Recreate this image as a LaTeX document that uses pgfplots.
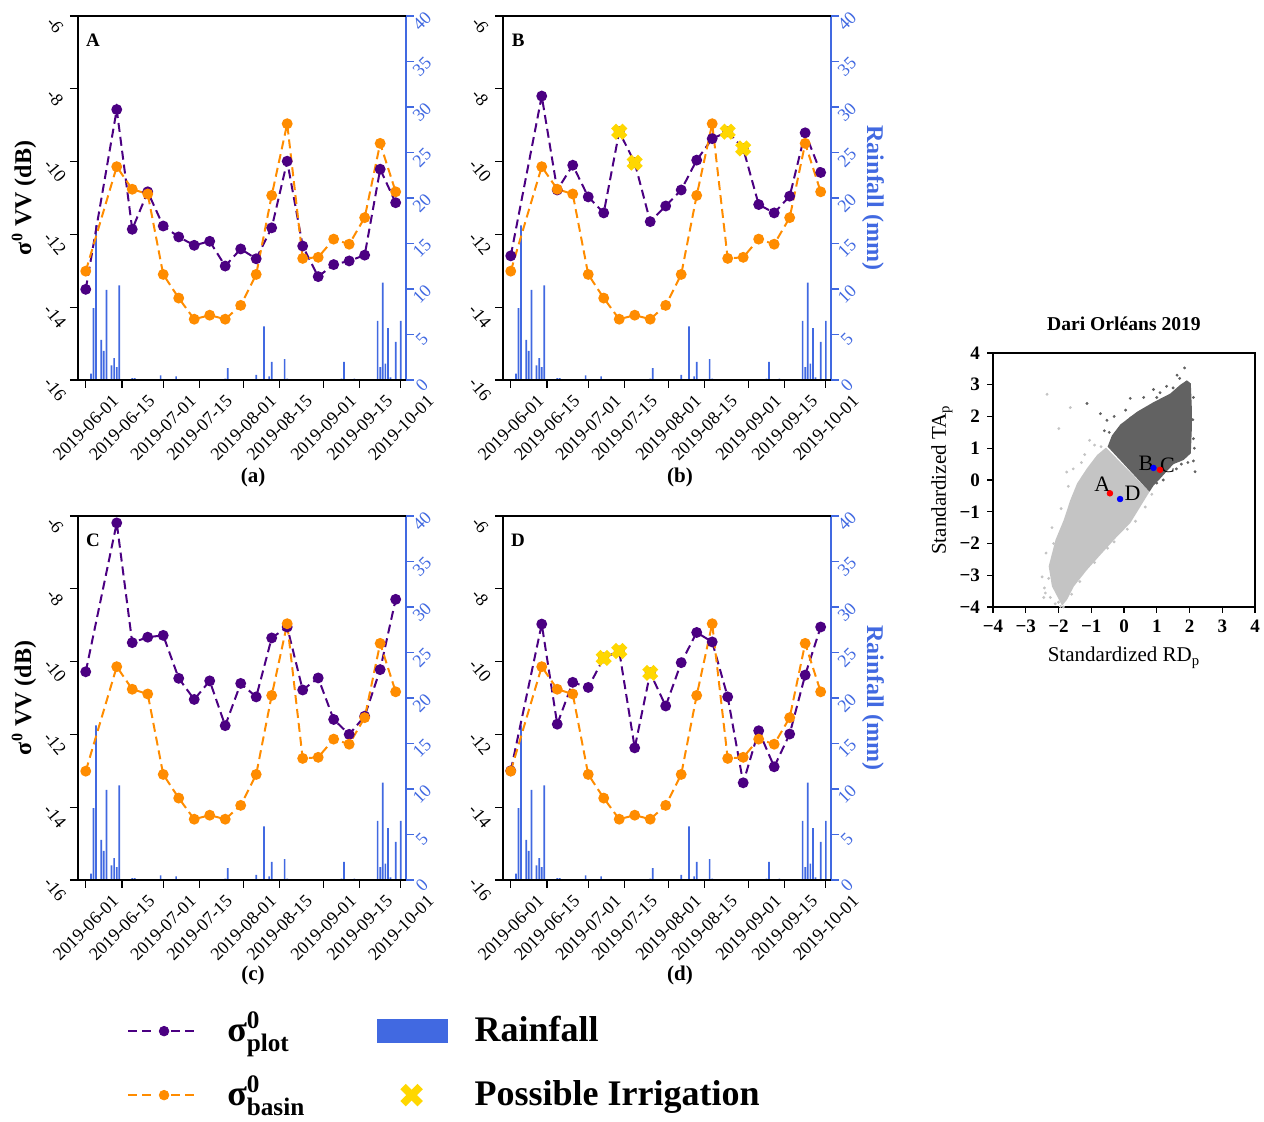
\documentclass[border=0pt]{standalone}
\usepackage{amsmath}
\usepackage{fontspec}
\setmainfont{Liberation Serif}
\usepackage{pgfplots}
\pgfplotsset{compat=1.18}
\usepackage{pgfplotstable}

\definecolor{cplot}{RGB}{75,0,130}
\definecolor{cbasin}{RGB}{255,140,0}
\definecolor{crain}{RGB}{65,105,225}
\definecolor{cirr}{RGB}{255,215,0}
\definecolor{clight}{RGB}{196,196,196}
\definecolor{cdark}{RGB}{98,98,98}

\newcommand{\tickfont}{\fontsize{9}{10}\selectfont}

\pgfplotstableread{
day mm
2 0.7
3 7.9
4 17.0
6 4.4
7 3.2
8 9.9
10 1.6
11 2.4
12 1.4
13 10.4
18 0.2
19 0.2
29 0.5
35 0.4
54 0.15
55 1.3
66 0.55
69 5.9
71 0.4
72 2.0
77 2.3
78 0.15
99 0.15
100 2.0
104 0.15
113 6.5
114 1.4
115 10.7
116 1.8
117 5.7
118 0.3
120 4.2
122 6.5
}\raintable

\pgfplotstableread{
day s
0 -13.01
12 -10.14
18 -10.76
24 -10.89
30 -13.10
36 -13.75
42 -14.33
48 -14.22
54 -14.33
60 -13.95
66 -13.10
72 -10.93
78 -8.96
84 -12.66
90 -12.63
96 -12.13
102 -12.27
108 -11.54
114 -9.50
120 -10.83
}\basintable

\pgfplotstableread{
day s
0 -13.51
12 -8.57
18 -11.86
24 -10.83
30 -11.77
36 -12.07
42 -12.30
48 -12.19
54 -12.87
60 -12.40
66 -12.67
72 -11.82
78 -9.99
84 -12.32
90 -13.16
96 -12.83
102 -12.73
108 -12.57
114 -10.21
120 -11.13
}\plotA

\pgfplotstableread{
day s
0 -12.59
12 -8.20
18 -10.78
24 -10.10
30 -10.97
36 -11.41
42 -9.18
48 -10.03
54 -11.65
60 -11.22
66 -10.78
72 -9.96
78 -9.37
84 -9.18
90 -9.64
96 -11.18
102 -11.41
108 -10.95
114 -9.21
120 -10.30
}\plotB

\pgfplotstableread{
day s
0 -10.28
12 -6.19
18 -9.48
24 -9.33
30 -9.28
36 -10.46
42 -11.04
48 -10.53
54 -11.76
60 -10.60
66 -10.97
72 -9.35
78 -9.05
84 -10.78
90 -10.45
96 -11.59
102 -12.00
108 -11.50
114 -10.22
120 -8.29
}\plotC

\pgfplotstableread{
day s
0 -13.00
12 -8.97
18 -11.72
24 -10.57
30 -10.71
36 -9.90
42 -9.71
48 -12.37
54 -10.31
60 -11.22
66 -10.03
72 -9.20
78 -9.46
84 -10.97
90 -13.33
96 -11.90
102 -12.89
108 -11.99
114 -10.37
120 -9.05
}\plotD

\pgfplotstableread{
day s
42 -9.18
48 -10.03
84 -9.18
90 -9.64
}\irrB

\pgfplotstableread{
day s
36 -9.90
42 -9.71
54 -10.31
}\irrD

\pgfplotsset{
  panelbase/.style={scale only axis, width=164pt, height=182pt, xmin=-3, xmax=124, anchor=south west},
  rainax/.style={panelbase, ymin=0, ymax=40,
    axis x line=none, axis y line*=right,
    y axis line style={crain, line width=0.8pt},
    ytick={0,5,...,40}, yticklabels={0,5,10,15,20,25,30,35,40},
    tick align=outside, major tick length=4pt,
    ytick style={crain, line width=0.6pt},
    yticklabel style={font=\tickfont, text=crain, anchor=center, xshift=4pt, yshift=-2.5pt, rotate=45}},
  sigax/.style={panelbase, ymin=-16, ymax=-6,
    axis x line*=box, axis y line*=left,
    tick align=outside, major tick length=4pt,
    xtick={0,14,30,44,61,75,92,106,122},
    xticklabels={2019-06-01,2019-06-15,2019-07-01,2019-07-15,2019-08-01,2019-08-15,2019-09-01,2019-09-15,2019-10-01},
    xtick pos=left,
    ytick={-16,-14,-12,-10,-8,-6}, yticklabels={-16,-14,-12,-10,-8,-6},
    ytick pos=left,
    xticklabel style={font=\tickfont, anchor=center, yshift=-20pt, rotate=45},
    yticklabel style={font=\tickfont, anchor=center, xshift=-7.5pt, yshift=-4.5pt, rotate=-50},
    axis line style={line width=0.8pt},
    tick style={black, line width=0.6pt}},
  sigylabel/.style={ylabel={σ\textsuperscript{0} VV (dB)},
    ylabel style={font=\bfseries\fontsize{12}{14}\selectfont, at={(axis description cs:-0.165,0.5)}, anchor=center}},
  rainylabel/.style={ylabel={Rainfall (mm)},
    ylabel style={font=\bfseries\fontsize{12}{14}\selectfont, text=crain, at={(axis description cs:1.128,0.5)}, anchor=center, rotate=180}},
  plotline/.style={cplot, line width=1pt, dash pattern=on 4.5pt off 2.5pt, mark=*, mark size=2.2pt, mark options={solid, fill=cplot, draw=cplot}},
  basinline/.style={cbasin, line width=1pt, dash pattern=on 4.5pt off 2.5pt, mark=*, mark size=2.2pt, mark options={solid, fill=cbasin, draw=cbasin}},
  irr/.style={only marks, mark=x, mark size=4pt, cirr, mark options={line width=3.4pt, solid, draw=cirr}},
  rainbars/.style={ybar, bar width=0.65, fill=crain, draw=none},
}
\tikzset{panelletter/.style={font=\bfseries\fontsize{9.5}{11}\selectfont, anchor=center},
  subcap/.style={font=\bfseries\fontsize{10.5}{12}\selectfont, anchor=center}}

\begin{document}
\begin{tikzpicture}
\useasboundingbox (0pt,0pt) rectangle (632pt,561pt);

% ---------- Panel A
\begin{axis}[rainax, at={(39pt,371pt)}]
\addplot[rainbars] table[x=day,y=mm]{\raintable};
\end{axis}
\begin{axis}[sigax, sigylabel, at={(39pt,371pt)}]
\addplot[plotline] table[x=day,y=s]{\plotA};
\addplot[basinline] table[x=day,y=s]{\basintable};
\node[panelletter] at (rel axis cs:0.046,0.934) {A};
\end{axis}

% ---------- Panel B
\begin{axis}[rainax, rainylabel, at={(251.5pt,371pt)}]
\addplot[rainbars] table[x=day,y=mm]{\raintable};
\end{axis}
\begin{axis}[sigax, at={(251.5pt,371pt)}]
\addplot[plotline] table[x=day,y=s]{\plotB};
\addplot[basinline] table[x=day,y=s]{\basintable};
\addplot[irr] table[x=day,y=s]{\irrB};
\node[panelletter] at (rel axis cs:0.046,0.934) {B};
\end{axis}

% ---------- Panel C
\begin{axis}[rainax, at={(39pt,121pt)}]
\addplot[rainbars] table[x=day,y=mm]{\raintable};
\end{axis}
\begin{axis}[sigax, sigylabel, at={(39pt,121pt)}]
\addplot[plotline] table[x=day,y=s]{\plotC};
\addplot[basinline] table[x=day,y=s]{\basintable};
\node[panelletter] at (rel axis cs:0.046,0.934) {C};
\end{axis}

% ---------- Panel D
\begin{axis}[rainax, rainylabel, at={(251.5pt,121pt)}]
\addplot[rainbars] table[x=day,y=mm]{\raintable};
\end{axis}
\begin{axis}[sigax, at={(251.5pt,121pt)}]
\addplot[plotline] table[x=day,y=s]{\plotD};
\addplot[basinline] table[x=day,y=s]{\basintable};
\addplot[irr] table[x=day,y=s]{\irrD};
\node[panelletter] at (rel axis cs:0.046,0.934) {D};
\end{axis}

\node[subcap] at (126.5pt,322.5pt) {(a)};
\node[subcap] at (340pt,322.5pt) {(b)};
\node[subcap] at (126.5pt,73.5pt) {(c)};
\node[subcap] at (340pt,73.5pt) {(d)};

% ---------- Scatter
\begin{axis}[scale only axis, width=131pt, height=127pt, at={(496.5pt,257.5pt)}, anchor=south west,
  xmin=-4, xmax=4, ymin=-4, ymax=4,
  xtick={-4,-3,-2,-1,0,1,2,3,4}, ytick={-4,-3,-2,-1,0,1,2,3,4},
  xticklabels={−4,−3,−2,−1,0,1,2,3,4}, yticklabels={−4,−3,−2,−1,0,1,2,3,4},
  tick align=outside, xtick pos=left, ytick pos=left, major tick length=3pt,
  ticklabel style={font=\bfseries\fontsize{9.5}{11}\selectfont},
  tick style={black, line width=0.6pt},
  axis line style={line width=0.7pt},
  title={Dari Orléans 2019},
  title style={font=\bfseries\fontsize{9.8}{11}\selectfont, at={(axis description cs:0.5,1.067)}, anchor=center},
  xlabel={Standardized RD\textsubscript{p}}, ylabel={Standardized TA\textsubscript{p}},
  xlabel style={font=\fontsize{10.5}{12}\selectfont, at={(axis description cs:0.5,-0.2)}, anchor=center},
  ylabel style={font=\fontsize{10.5}{12}\selectfont, at={(axis description cs:-0.195,0.5)}, anchor=center}]
\addplot[fill=clight, draw=none] coordinates {
(-1.89,-3.96) (-2.20,-3.35) (-2.30,-2.72) (-2.09,-1.88) (-1.84,-1.26) (-1.64,-0.63)
(-1.43,-0.10) (-1.13,0.37) (-0.82,0.79) (-0.55,1.02) (0.78,-0.37) (0.50,-0.84)
(0.19,-1.36) (-0.21,-1.78) (-0.67,-2.30) (-1.13,-2.83) (-1.53,-3.35) (-1.74,-3.77)} -- cycle;
\addplot[only marks, mark=*, mark size=0.5pt, clight] coordinates {
(-2.35,2.70) (-1.64,2.28) (-1.99,1.62) (-2.43,-3.40) (-2.40,-3.56) (-1.94,-3.98)
(-2.25,-3.70) (-2.50,-3.05) (-1.05,1.25) (-1.75,0.25) (-2.20,-1.50) (-2.38,-2.30)
(-1.92,-0.90) (-1.55,0.35) (0.65,-0.85) (0.35,-1.30) (-0.30,-1.95) (-0.90,-2.60)
(-1.35,-3.20) (-1.60,-3.60) (-2.00,-3.85) (-1.20,0.80) (-0.90,1.10) (-2.15,-2.0)
(-1.70,-0.20) (-1.30,0.55) (-0.70,1.05) (0.85,-0.45) (0.10,-1.55) (-0.50,-2.15)
(-2.30,-3.10) (-2.10,-3.90) (-1.85,-4.00) (-2.45,-3.70)};
\addplot[fill=cdark, draw=none] coordinates {
(-0.50,1.05) (-0.37,1.40) (-0.11,1.75) (0.40,2.15) (0.90,2.45) (1.41,2.72)
(1.72,3.00) (1.92,3.14) (2.04,3.04) (2.07,2.30) (2.07,1.57) (2.04,0.84)
(1.82,0.63) (1.51,0.50) (1.31,0.28) (1.11,0.05) (0.90,-0.18) (0.78,-0.37)} -- cycle;
\addplot[only marks, mark=*, mark size=0.5pt, cdark] coordinates {
(-0.72,2.09) (-0.52,1.88) (-0.30,2.00) (0.19,2.57) (0.60,2.60) (0.90,2.85)
(1.30,2.95) (1.62,3.30) (1.85,3.53) (1.70,3.20) (2.17,0.26) (2.12,0.60)
(2.15,1.00) (-1.13,2.41) (-0.60,1.55) (0.05,2.20) (1.10,2.75) (2.12,2.60)
(1.95,0.55) (1.60,0.35) (1.20,0.00) (2.10,1.90) (-0.45,1.50) (0.20,1.95)
(1.00,2.60) (1.50,2.90) (2.12,1.30) (1.75,0.50) (1.00,-0.10)};
\addplot[only marks, mark=*, mark size=1.4pt, red] coordinates {(-0.43,-0.42) (1.10,0.32)};
\addplot[only marks, mark=*, mark size=1.4pt, blue] coordinates {(-0.12,-0.60) (0.90,0.38)};
\node[font=\fontsize{11}{13}\selectfont] at (axis cs:-0.66,-0.12) {A};
\node[font=\fontsize{11}{13}\selectfont] at (axis cs:0.26,-0.42) {D};
\node[font=\fontsize{11}{13}\selectfont] at (axis cs:0.67,0.52) {B};
\node[font=\fontsize{11}{13}\selectfont] at (axis cs:1.33,0.47) {C};
\end{axis}

% ---------- Legend
\begin{axis}[hide axis, scale only axis, width=632pt, height=561pt, at={(0pt,0pt)}, anchor=south west,
  xmin=0, xmax=1, ymin=0, ymax=1,
  legend columns=2, legend cell align=left,
  legend style={draw=none, fill=none, inner sep=0pt, at={(0.1002,0.1045)}, anchor=north west,
    font=\bfseries\fontsize{18}{20}\selectfont,
    nodes={inner sep=0pt, text height=18pt, text depth=8pt},
    row sep=6pt, column sep=0pt}]
\addlegendimage{legend image code/.code={
  \draw[cplot, line width=1pt, dash pattern=on 4.5pt off 2.5pt] (0pt,0pt) -- (14pt,0pt);
  \draw[cplot, line width=1pt, dash pattern=on 4.5pt off 2.5pt] (21.5pt,0pt) -- (35pt,0pt);
  \fill[cplot] (18pt,0pt) circle (2.4pt);
  \path[draw=none, fill=none] (0pt,0pt) -- (49.6pt,0pt);}}
\addlegendentry{\makebox[75pt][l]{σ$^{\textbf{0}}_{\textbf{plot}}$}}
\addlegendimage{legend image code/.code={
  \fill[crain] (0pt,-5.85pt) rectangle (35pt,5.85pt);
  \path[draw=none, fill=none] (0pt,0pt) -- (48.5pt,0pt);}}
\addlegendentry{Rainfall}
\addlegendimage{legend image code/.code={
  \draw[cbasin, line width=1pt, dash pattern=on 4.5pt off 2.5pt] (0pt,0pt) -- (14pt,0pt);
  \draw[cbasin, line width=1pt, dash pattern=on 4.5pt off 2.5pt] (21.5pt,0pt) -- (35pt,0pt);
  \fill[cbasin] (18pt,0pt) circle (2.4pt);
  \path[draw=none, fill=none] (0pt,0pt) -- (49.6pt,0pt);}}
\addlegendentry{\makebox[75pt][l]{σ$^{\textbf{0}}_{\textbf{basin}}$}}
\addlegendimage{legend image code/.code={
  \draw[cirr, line width=3.8pt] (12.7pt,-4.3pt) -- (21.3pt,4.3pt);
  \draw[cirr, line width=3.8pt] (12.7pt,4.3pt) -- (21.3pt,-4.3pt);
  \path[draw=none, fill=none] (0pt,0pt) -- (48.5pt,0pt);}}
\addlegendentry{Possible Irrigation}
\end{axis}
\end{tikzpicture}
\end{document}
